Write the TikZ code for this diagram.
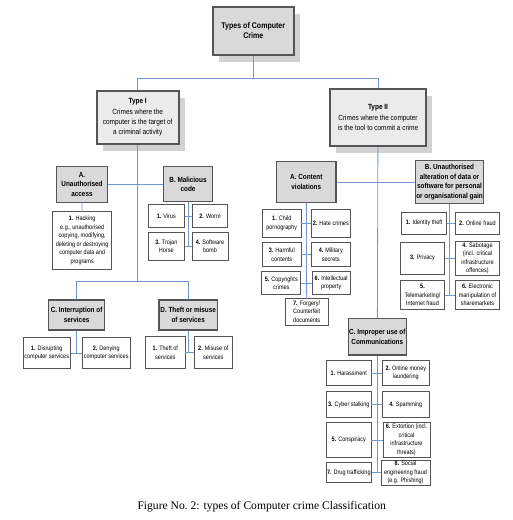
\documentclass[tikz,border=0pt]{standalone}
\usepackage{fontspec}
\setmainfont{Liberation Serif}
\newfontfamily\boxfont[FakeStretch=0.86]{Liberation Sans}
\usetikzlibrary{positioning, shadows}
\definecolor{linkblue}{HTML}{7099D2}
\definecolor{edgegray}{HTML}{555555}
\definecolor{catfill}{HTML}{D9D9D9}
\definecolor{typefill}{HTML}{EBEBEB}
\definecolor{shadowgray}{HTML}{D2D2D2}

\begin{document}
\begin{tikzpicture}[
  x=1pt, y=-1pt,
  wh/.style 2 args={minimum width=#1pt, minimum height=#2pt},
  rootbox/.style={
    draw=edgegray,
    line width=1.8pt,
    fill=catfill,
    align=center,
    inner sep=1pt,
    font=\boxfont\bfseries\fontsize{8.2}{10}\selectfont,
    drop shadow={shadow xshift=6pt, shadow yshift=-7pt, fill=shadowgray, opacity=1},
  },
  typebox/.style={
    rootbox,
    fill=typefill,
    font=\boxfont\fontsize{7.5}{10.3}\selectfont,
  },
  catbox/.style={
    draw=edgegray,
    line width=1.2pt,
    fill=catfill,
    align=center,
    inner sep=1pt,
    font=\boxfont\bfseries\fontsize{7.4}{9.6}\selectfont,
  },
  itembox/.style={
    draw=edgegray,
    line width=0.9pt,
    fill=white,
    align=center,
    inner sep=1pt,
    font=\boxfont\fontsize{6.4}{8.5}\selectfont,
  },
  link/.style={
    draw=linkblue,
    line width=0.8pt,
  },
]
  \useasboundingbox (0,0) rectangle (513,520);

  % root and the two types
  \node[rootbox, wh={81}{48}] (root) at (253.3,31) {Types of Computer\\Crime};
  \node[typebox, wh={82}{53}] (typeI) at (137.7,117.5) {\textbf{Type I}\\Crimes where the\\computer is the target of\\a criminal activity};
  \node[typebox, wh={96}{57}] (typeII) at (378,117.7) {\textbf{Type II}\\Crimes where the computer\\is the tool to commit a crime};

  % Type I categories
  \node[catbox, wh={50.6}{35.6}] (access) at (82,184.3) {A.\\Unauthorised\\access};
  \node[catbox, wh={49}{35}] (malicious) at (188,184.3) {B. Malicious\\code};
  \node[catbox, wh={56}{30}] (interrupt) at (76.6,315) {C. Interruption of\\services};
  \node[catbox, wh={58.3}{30}] (misuse) at (188.2,315) {D. Theft or misuse\\of services};

  \node[itembox, wh={59}{57.6}] (hacking) at (82.2,240.5) {\textbf{1.} Hacking\\e.g., unauthorised\\copying, modifying,\\deleting or destroying\\computer data and\\programs};
  \node[itembox, wh={36}{23.4}] (virus) at (166.3,216) {\textbf{1.} Virus};
  \node[itembox, wh={35.4}{23.4}] (worm) at (210,216) {\textbf{2.} Worm};
  \node[itembox, wh={36}{27.7}] (trojan) at (166.3,246.2) {\textbf{3.} Trojan\\Horse};
  \node[itembox, wh={36}{27.7}] (bomb) at (210,246.2) {\textbf{4.} Software\\bomb};
  \node[itembox, wh={46.7}{30.6}] (disrupt) at (46.7,353) {\textbf{1.} Disrupting\\computer services};
  \node[itembox, wh={47.7}{30.6}] (deny) at (106.2,353) {\textbf{2.} Denying\\computer services};
  \node[itembox, wh={39.3}{31.6}] (theft) at (165.3,352.5) {\textbf{1.} Theft of\\services};
  \node[itembox, wh={38}{31.6}] (misusesv) at (213.3,352.5) {\textbf{2.} Misuse of\\services};

  % Type II categories
  \node[catbox, wh={59.3}{40.6}] (content) at (306.3,182) {A. Content\\violations};
  \node[catbox, wh={67.6}{42.6}] (alter) at (449.5,182) {B. Unauthorised\\alteration of data or\\software for personal\\or organisational gain};
  \node[catbox, wh={57.7}{36.7}] (improper) at (377.3,336.7) {C. Improper use of\\Communications};

  \node[itembox, wh={38.3}{28.3}] (child) at (281.8,223.2) {\textbf{1.} Child\\pornography};
  \node[itembox, wh={38.3}{28.3}] (hate) at (330.8,223.2) {\textbf{2.} Hate crimes};
  \node[itembox, wh={38.3}{24.4}] (harmful) at (281.8,254.5) {\textbf{3.} Harmful\\contents};
  \node[itembox, wh={38.3}{24.4}] (military) at (330.8,254.5) {\textbf{4.} Military\\secrets};
  \node[itembox, wh={39}{23}] (copyright) at (281.3,283) {\textbf{5.} Copyrights\\crimes};
  \node[itembox, wh={37.7}{23}] (intel) at (331.2,283) {\textbf{6.} Intellectual\\property};
  \node[itembox, wh={43.3}{26.7}] (forgery) at (306.7,311.7) {\textbf{7.} Forgery/\\Counterfeit\\documents};

  \node[itembox, wh={45}{21.7}] (identity) at (424.2,223.2) {\textbf{1.} Identity theft};
  \node[itembox, wh={43.6}{21.7}] (online) at (477.5,223.2) {\textbf{2.} Online fraud};
  \node[itembox, wh={43.6}{32}] (privacy) at (422.5,258.3) {\textbf{3.} Privacy};
  \node[itembox, wh={43.6}{32}] (sabotage) at (477.5,258.3) {\textbf{4.} Sabotage\\(incl. critical\\infrastructure\\offences)};
  \node[itembox, wh={43.6}{29}] (telemkt) at (422.5,295) {\textbf{5.}\\Telemarketing/\\Internet fraud};
  \node[itembox, wh={43.6}{29}] (sharemkt) at (477.5,295) {\textbf{6.} Electronic\\manipulation of\\sharemarkets};

  \node[itembox, wh={44.3}{24.3}] (harass) at (348.8,372.9) {\textbf{1.} Harassment};
  \node[itembox, wh={47}{24.3}] (launder) at (405.8,372.9) {\textbf{2.} Online money\\laundering};
  \node[itembox, wh={44.3}{25.6}] (stalking) at (348.8,404.5) {\textbf{3.} Cyber stalking};
  \node[itembox, wh={47}{25.6}] (spam) at (405.8,404.5) {\textbf{4.} Spamming};
  \node[itembox, wh={44.3}{34.6}] (conspiracy) at (348.8,440) {\textbf{5.} Conspiracy};
  \node[itembox, wh={47}{34.6}] (extortion) at (406.5,440) {\textbf{6.} Extortion (incl.\\critical\\infrastructure\\threats)};
  \node[itembox, wh={45.6}{20.3}] (drugs) at (348.8,472.5) {\textbf{7.} Drug trafficking};
  \node[itembox, wh={49}{20.3}] (social) at (405.5,472.5) {\textbf{8.} Social\\engineering fraud\\(e.g. Phishing)};

  \node[font=\fontsize{11.6}{13}\selectfont] (caption) at (261.7,507) {Figure No.\ 2: types of Computer crime Classification};

  % connectors
  \coordinate (rootbus) at (253.3,78);
  \coordinate (leftbus) at (137.7,281);
  \draw[link] (root) -- (rootbus);
  \draw[link] (rootbus) -| (typeI.north);
  \draw[link] (rootbus) -| (typeII.north);

  \draw[link] (typeI) -- (leftbus);
  \draw[link] (access) -- (malicious);
  \draw[link] (leftbus) -| (interrupt.north);
  \draw[link] (leftbus) -| (misuse.north);
  \draw[link] (access) -- (hacking);
  \draw[link] (malicious) -- (malicious |- bomb);
  \draw[link] (virus) -- (worm);
  \draw[link] (trojan) -- (bomb);
  \draw[link] (interrupt) -- (interrupt |- deny);
  \draw[link] (disrupt) -- (deny);
  \draw[link] (misuse) -- (misuse |- theft);
  \draw[link] (theft) -- (misusesv);

  \draw[link] (typeII) -- (improper);
  \draw[link] (content) -- (alter);
  \draw[link] (content) -- (forgery);
  \draw[link] (child) -- (hate);
  \draw[link] (harmful) -- (military);
  \draw[link] (copyright) -- (intel);
  \draw[link] (alter) -- (alter |- sharemkt);
  \draw[link] (identity) -- (online);
  \draw[link] (privacy) -- (sabotage);
  \draw[link] (telemkt) -- (sharemkt);
  \draw[link] (improper) -- (improper |- drugs);
  \draw[link] (harass) -- (launder);
  \draw[link] (stalking) -- (spam);
  \draw[link] (conspiracy) -- (extortion);
  \draw[link] (drugs) -- (social);
\end{tikzpicture}
\end{document}
